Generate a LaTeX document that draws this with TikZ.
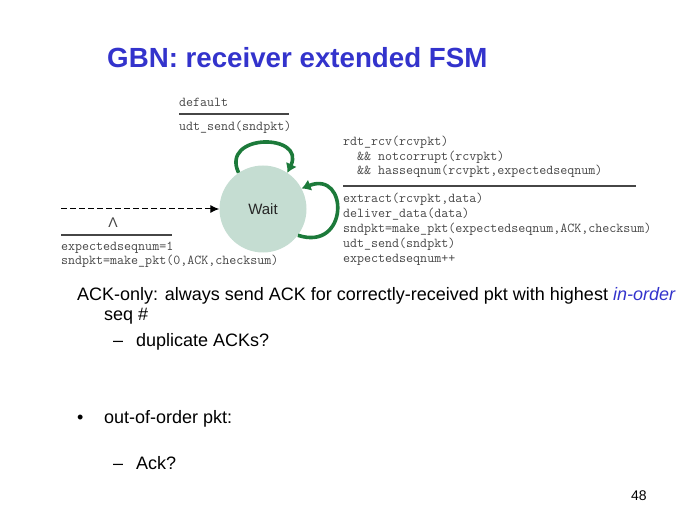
\documentclass[tikz,border=0pt]{standalone}
\usepackage{fontspec}
\setmainfont{Liberation Sans}
\usetikzlibrary{arrows.meta}
\definecolor{titleblue}{RGB}{51,51,204}
\definecolor{loopgreen}{RGB}{28,122,58}
\definecolor{statefill}{RGB}{197,221,210}
\definecolor{codegray}{RGB}{70,70,70}
\tikzset{
  code/.style={anchor=base west, inner sep=0pt, text=codegray, align=left,
    font=\ttfamily\fontsize{13.6}{14.9}\selectfont},
  rule/.style={codegray, line width=1.4pt},
  loop/.style={loopgreen, line width=3.6pt, -{Latex[length=9pt,width=12pt]}},
  body/.style={anchor=base west, inner sep=0pt, font=\fontsize{18}{22}\selectfont}
}
\begin{document}
\begin{tikzpicture}[x=1pt,y=-1pt]
                    \useasboundingbox (0,0) rectangle (698,521);
                    \node[anchor=base west, inner sep=0pt, text=titleblue, font=\fontsize{27.7}{32}\selectfont\bfseries] (title) at (107,68) {GBN: receiver extended FSM};

                    \node[circle, fill=statefill, minimum size=87pt, inner sep=0pt, text=black!85, font=\fontsize{15}{17}\selectfont] (wait) at (263,209) {Wait};

                    \node[code] (dflt) at (179,106.7) {default};
                    \draw[rule] (179,114) -- (289,114);
                    \node[code] (dfltact) at (179,130.7) {udt\_send(sndpkt)};

                    \draw[loop] (wait.124) .. controls (220,133) and (306,133) .. (wait.56);
                    \draw[loop] (wait.-37) .. controls (349,252) and (349,170) .. (wait.28);

                    \coordinate (start) at (61,209);
                    \draw[dashed, dash pattern=on 6pt off 3pt, line width=1pt, -{Latex[length=9pt,width=8pt]}] (start) -- (wait.west);
                    \node[anchor=base, inner sep=0pt, font=\fontsize{14}{16}\selectfont, text=codegray] (lam) at (113,228) {Λ};
                    \draw[rule] (61,235) -- (172,235);
                    \node[code] (initact) at (61,265) {expectedseqnum=1\\sndpkt=make\_pkt(0,ACK,checksum)};

                    \node[code] (guard) at (343,175) {rdt\_rcv(rcvpkt)\\\ \ \&\& notcorrupt(rcvpkt)\\\ \ \&\& hasseqnum(rcvpkt,expectedseqnum)};
                    \draw[rule] (343,186) -- (636,186);
                    \node[code] (action) at (343,262.3) {extract(rcvpkt,data)\\deliver\_data(data)\\sndpkt=make\_pkt(expectedseqnum,ACK,checksum)\\udt\_send(sndpkt)\\expectedseqnum++};

                    \node[body] (l1) at (77,300) {ACK-only: always send ACK for correctly-received pkt with highest \textcolor{titleblue}{\itshape in-order}};
                    \node[body] (l2) at (104,320) {seq \#};
                    \node[body] (d1) at (113,346) {–};
                    \node[body] (l3) at (136,346) {duplicate ACKs?};
                    \node[body] (b1) at (77,423) {•};
                    \node[body] (l4) at (104,423) {out-of-order pkt:};
                    \node[body] (d2) at (113,469) {–};
                    \node[body] (l5) at (136,469) {Ack?};
                    \node[anchor=base west, inner sep=0pt, font=\fontsize{14}{16}\selectfont] (page) at (631,500) {48};
                \end{tikzpicture}
\end{document}
